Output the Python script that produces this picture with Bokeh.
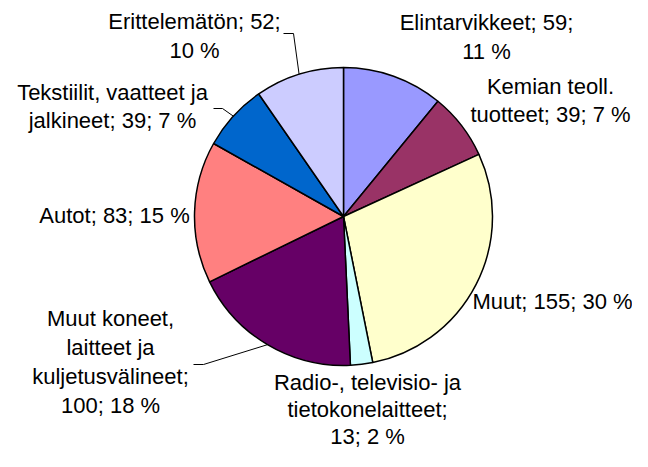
import numpy as np
import pandas as pd
from bokeh.plotting import figure
from bokeh.models import Range1d, ColumnDataSource
from bokeh.core.properties import value
from bokeh.embed import file_html
from bokeh.resources import INLINE

# ---- data (clockwise from 12 o'clock) ----
categories = ["Elintarvikkeet", "Kemian teoll. tuotteet", "Muut",
              "Radio-, televisio- ja tietokonelaitteet",
              "Muut koneet, laitteet ja kuljetusvälineet", "Autot",
              "Tekstiilit, vaatteet ja jalkineet", "Erittelemätön"]
values = [59, 39, 155, 13, 100, 83, 39, 52]
percents = [11, 7, 30, 2, 18, 15, 7, 10]
colors = ["#9999FF", "#993366", "#FFFFCC", "#CCFFFF",
          "#660066", "#FF8080", "#0066CC", "#CCCCFF"]

# ---- layout ----
PW, PH = 632, 451
CX, CY_PX, R = 343, 216, 149
FONT = "Liberation Sans"
FS = 22
TEXT_DY = 9  # svg text sits lower than requested; compensate

# words per line for each label (wrapping)
wrap = [[2, 2], [2, 4], [4], [3, 1, 3], [2, 2, 1, 3], [4], [3, 4], [2, 2]]
# label centre x, first-line baseline (screen px) and line height
label_pos = [(486, 31, 29), (550, 95, 28), (552, 310, 29), (367, 391, 27),
             (110, 327, 29), (114, 224, 29), (112, 101, 28), (194, 30, 29)]
# leader lines: slice index -> (start point, elbow point) in screen px
leaders = {7: [(283, 33), (293, 33)],
           6: [(213, 108), (222, 108)],
           4: [(193, 364), (203, 364)]}


def Y(py):
    return PH - py


total = sum(values)
cum = np.concatenate([[0], np.cumsum(values)])
start = np.pi / 2 - 2 * np.pi * cum[:-1] / total
end = np.pi / 2 - 2 * np.pi * cum[1:] / total
mid = (start + end) / 2

df = pd.DataFrame(dict(category=categories, value=values, color=colors,
                       start=start, end=end))
src = ColumnDataSource(df)

p = figure(width=PW, height=PH, output_backend="svg", toolbar_location=None,
           x_range=Range1d(0, PW), y_range=Range1d(0, PH),
           x_axis_location=None, y_axis_location=None, min_border=0)
p.grid.visible = False
p.outline_line_color = None
p.background_fill_color = "white"
p.border_fill_color = "white"

p.wedge(x=CX, y=Y(CY_PX), radius=R, start_angle="start", end_angle="end",
        direction="clock", fill_color="color", line_color="black",
        line_width=1.5, source=src)

# labels
tx, ty, tt = [], [], []
for i, (cat, v, pc) in enumerate(zip(categories, values, percents)):
    words = f"{cat}; {v}; {pc} %".split(" ")
    k = 0
    lx, ly, lh = label_pos[i]
    for j, n in enumerate(wrap[i]):
        tt.append(" ".join(words[k:k + n]))
        k += n
        tx.append(lx)
        ty.append(Y(ly + j * lh - TEXT_DY))
p.text(x=tx, y=ty, text=tt, text_align="center", text_baseline="alphabetic",
       text_font=value(FONT), text_font_size=f"{FS}px", text_color="black")

# leader lines
xs, ys = [], []
for i, pts in leaders.items():
    ex = CX + R * np.cos(mid[i])
    ey = Y(CY_PX) + R * np.sin(mid[i])
    xs.append([pts[0][0], pts[1][0], ex])
    ys.append([Y(pts[0][1]), Y(pts[1][1]), ey])
p.multi_line(xs=xs, ys=ys, line_color="black", line_width=1)

open("out.html", "w").write(file_html(p, INLINE))
